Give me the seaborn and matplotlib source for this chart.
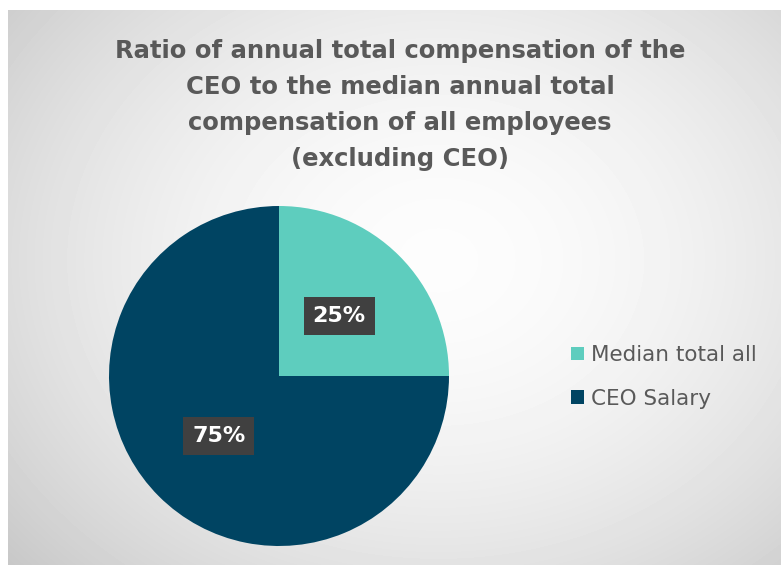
import numpy as np
import matplotlib
matplotlib.use("Agg")
import matplotlib.pyplot as plt
import seaborn as sns

# data
labels = ["Median total all", "CEO Salary"]
shares = [25, 75]
colors = ["#5ECDBE", "#004462"]

title = ("Ratio of annual total compensation of the\n"
         "CEO to the median annual total\n"
         "compensation of all employees\n"
         "(excluding CEO)")

sns.set_theme(style="white")
plt.rcParams['font.family'] = ['DejaVu Sans']

W, H = 781, 571
fig = plt.figure(figsize=(W / 100, H / 100), dpi=100)
fig.patch.set_facecolor("white")

# chart area with a radial gradient background
bg = fig.add_axes([8 / W, 6 / H, 773 / W, 555 / H])
yy, xx = np.mgrid[0:555, 0:773]
r = np.sqrt(((xx - 430) / 560.0) ** 2 + ((yy - 250) / 450.0) ** 2)
shade = 0.99 - 0.2 * np.clip(r, 0, 1.3) ** 1.8
bg.imshow(shade, cmap="gray", vmin=0, vmax=1, aspect="auto", interpolation="bilinear")
bg.set_axis_off()

# title
fig.text(400 / W, 1 - 105 / H, title, ha="center", va="center",
         fontsize=17.5, fontweight="bold", color="#595959", linespacing=1.62)

# pie
ax = fig.add_axes([109 / W, 25 / H, 340 / W, 340 / H])
wedges, texts, autotexts = ax.pie(
    shares, colors=colors, startangle=90, counterclock=False,
    autopct="%1.0f%%", pctdistance=0.5,
    wedgeprops=dict(linewidth=0),
    textprops=dict(color="white", fontsize=16, fontweight="bold"))
for t in autotexts:
    t.set_bbox(dict(boxstyle="square,pad=0.4", facecolor="#404040", edgecolor="none"))
ax.set_xlim(-1, 1)
ax.set_ylim(-1, 1)
ax.set_aspect("equal")

fig.legend(wedges, labels, loc="center left", bbox_to_anchor=(552 / W, 1 - 377 / H),
           frameon=False, fontsize=15.5, labelcolor="#595959",
           handlelength=0.6, handleheight=0.6, handletextpad=0.3, labelspacing=1.1)

fig.savefig("out.png", dpi=100)
